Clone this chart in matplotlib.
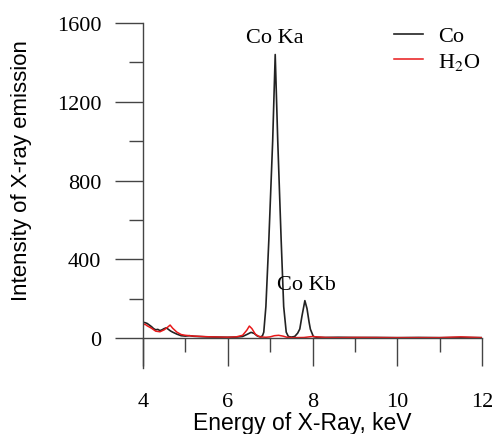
import matplotlib
matplotlib.use("Agg")
import matplotlib.pyplot as plt
from matplotlib.ticker import MultipleLocator

plt.rcParams["mathtext.fontset"] = "stix"

# Co sample spectrum (black)
co_energy = [4.00, 4.05, 4.10, 4.15, 4.20, 4.25, 4.30, 4.35, 4.40, 4.45,
             4.50, 4.55, 4.60, 4.65, 4.70, 4.80, 4.90, 5.00, 5.10, 5.20,
             5.30, 5.50, 5.70, 6.00, 6.20, 6.35, 6.45, 6.55, 6.62, 6.70,
             6.78, 6.82, 6.85, 6.90, 6.97, 7.06, 7.12, 7.18, 7.26, 7.32,
             7.38, 7.43, 7.50, 7.58, 7.65, 7.70, 7.75, 7.82, 7.87, 7.92,
             7.95, 8.02, 8.10, 8.30, 8.60, 9.00, 9.50, 10.00, 10.50, 11.00,
             11.50, 12.00]
co_counts = [80, 78, 74, 66, 58, 48, 42, 44, 38, 42,
             48, 52, 44, 36, 30, 20, 12, 10, 12, 9,
             8, 6, 5, 4, 5, 8, 18, 29, 24, 10,
             6, 12, 30, 160, 500, 1000, 1440, 1000, 500, 160,
             30, 8, 5, 8, 25, 46, 110, 190, 150, 80,
             45, 8, 4, 3, 4, 3, 3, 2, 3, 2,
             3, 2]

# H2O spectrum (red)
h2o_energy = [4.00, 4.05, 4.10, 4.20, 4.30, 4.40, 4.50, 4.58, 4.64, 4.70,
              4.80, 4.90, 5.00, 5.10, 5.20, 5.40, 5.60, 5.80, 6.00, 6.20,
              6.35, 6.45, 6.51, 6.57, 6.65, 6.75, 6.90, 7.00, 7.10, 7.20,
              7.30, 7.40, 7.55, 7.80, 8.00, 8.10, 8.30, 8.60, 9.00, 10.00,
              11.00, 11.50, 12.00]
h2o_counts = [68, 70, 62, 50, 35, 32, 42, 55, 66, 50,
              30, 18, 14, 12, 10, 8, 6, 5, 4, 6,
              14, 40, 61, 48, 20, 6, 4, 6, 12, 14,
              10, 4, 2, 3, 8, 6, 3, 2, 3, 2,
              2, 6, 2]

x_ticks = [4, 6, 8, 10, 12]
y_ticks = [0, 400, 800, 1200, 1600]

serif = "Liberation Serif"
sans = "Liberation Sans"

fig = plt.figure(figsize=(4.96, 4.35), dpi=100)
ax = fig.add_axes([143 / 496, 1 - 368.6 / 435, 339 / 496, 344.6 / 435])

ax.plot(co_energy, co_counts, color="#222222", lw=1.2, label="Co")
ax.plot(h2o_energy, h2o_counts, color="#e8191a", lw=1.1, label="H$_2$O")

ax.set_xlim(4, 12)
ax.set_ylim(-150, 1600)

for s in ["top", "right"]:
    ax.spines[s].set_visible(False)
ax.spines["bottom"].set_position(("data", 0))
for s in ["left", "bottom"]:
    ax.spines[s].set_color("#444444")
    ax.spines[s].set_linewidth(1.0)

ax.set_xticks(x_ticks)
ax.set_yticks(y_ticks)
ax.xaxis.set_minor_locator(MultipleLocator(1))
ax.yaxis.set_minor_locator(MultipleLocator(200))
ax.tick_params(axis="x", which="major", direction="out", length=20, width=1.0,
               color="#444444", pad=19, labelsize=16)
ax.tick_params(axis="x", which="minor", direction="out", length=10, width=1.0,
               color="#444444")
ax.tick_params(axis="y", which="major", direction="out", length=20, width=1.0,
               color="#444444", pad=10, labelsize=16)
ax.tick_params(axis="y", which="minor", direction="out", length=10, width=1.0,
               color="#444444")
for lab in ax.get_xticklabels() + ax.get_yticklabels():
    lab.set_fontfamily(serif)

fig.text(302 / 496, 1 - 424 / 435, "Energy of X-Ray, keV", fontfamily=sans,
         fontsize=16.5, ha="center", va="center")
fig.text(22 / 496, 1 - 171 / 435, "Intensity of X-ray emission", fontfamily=sans,
         fontsize=16, ha="center", va="center", rotation=90)

ax.text(7.1, 1480, "Co Ka", fontfamily=serif, fontsize=16, ha="center", va="bottom")
ax.text(7.85, 225, "Co Kb", fontfamily=serif, fontsize=16, ha="center", va="bottom")

leg = ax.legend(loc="upper left", bbox_to_anchor=(385 / 496, 1 - 18 / 435),
                bbox_transform=fig.transFigure, frameon=False,
                prop={"family": serif, "size": 16}, handlelength=1.3,
                handletextpad=0.7, labelspacing=0.2, borderaxespad=0)

fig.savefig("out.png", dpi=100)
